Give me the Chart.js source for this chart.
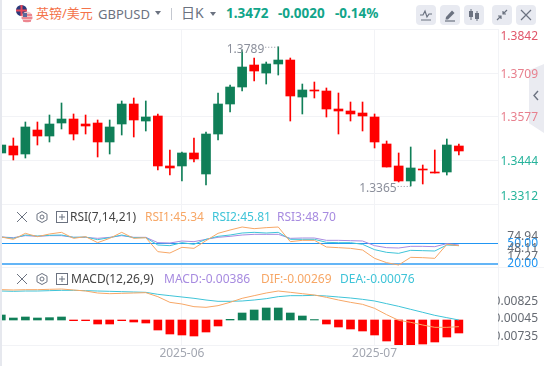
<!DOCTYPE html>
<html lang="zh">
<head>
<meta charset="utf-8">
<title>GBPUSD</title>
<script src="https://cdn.jsdelivr.net/npm/chart.js@4/dist/chart.umd.min.js"></script>
<style>
  html, body { margin: 0; padding: 0; background: #fff; }
  body { width: 544px; height: 366px; position: relative; overflow: hidden; font-family: "Noto Sans", "Noto Sans CJK SC", sans-serif; }
  .abs { position: absolute; white-space: nowrap; line-height: 16px; }
  canvas { position: absolute; left: 0; }
  .btn { position: absolute; top: 5px; width: 20px; height: 20px; background: #e8eaf1; border-radius: 4px; }
  .btn svg, .tool svg { display: block; }
  .tool { position: absolute; width: 12px; height: 12px; }
  .line { position: absolute; background: #f2f3f6; }
</style>
</head>
<body>
<div class="line" style="left:0;top:0;width:2px;height:366px;background:#e6e8ee"></div>
<div class="line" style="left:2px;top:267px;width:542px;height:1px"></div>
<div style="position:absolute;left:529px;top:64px;width:15px;height:69px;background:#eaebf1;clip-path:polygon(0 9%,100% 0,100% 100%,0 86%)"></div>
<svg style="position:absolute;left:532px;top:90px" width="8" height="11"><path d="M6 1 L2 5.5 L6 10" fill="none" stroke="#6b7280" stroke-width="1.4"/></svg>

<svg style="position:absolute;left:15px;top:4px" width="19" height="19">
  <circle cx="6.5" cy="6.5" r="5.5" fill="#2b3a7a"/>
  <path d="M1 6.5 H12 M6.5 1 V12" stroke="#e8485a" stroke-width="2"/>
  <circle cx="12" cy="13" r="5.5" fill="#f3c6c6"/>
  <path d="M7 11 H17 M6.6 14 H17.4 M8 17 H16" stroke="#e8485a" stroke-width="1.2"/>
  <rect x="8" y="9" width="4" height="4" fill="#5a6a9a"/>
</svg>
<div class="abs" style="left:36px;top:5px;font-size:13px;color:#f4734a">英镑/美元</div>
<div class="abs" style="left:98px;top:6px;font-size:13px;color:#6b7280">GBPUSD</div>
<svg style="position:absolute;left:155px;top:11px" width="6" height="4"><path d="M0 0 H6 L3 4 Z" fill="#6b7280"/></svg>
<div class="line" style="left:171px;top:8px;width:1px;height:12px;background:#c4c8d0"></div>
<div class="abs" style="left:181px;top:5px;font-size:14px;color:#6b7280">日K</div>
<svg style="position:absolute;left:210px;top:12px" width="6" height="4"><path d="M0 0 H6 L3 4 Z" fill="#6b7280"/></svg>
<div class="abs" style="left:226px;top:5px;font-size:13.5px;font-weight:700;color:#12a58a">1.3472</div>
<div class="abs" style="left:278px;top:5px;font-size:13.5px;font-weight:700;color:#12a58a">-0.0020</div>
<div class="abs" style="left:335px;top:5px;font-size:13.5px;font-weight:700;color:#12a58a">-0.14%</div>

<div class="btn" style="left:416px"><svg width="20" height="20"><path d="M4 10 H7 L9 6 L11 12 L13 9 H16 M5 15 H15" fill="none" stroke="#6b7280" stroke-width="1.2"/></svg></div>
<div class="btn" style="left:440px"><svg width="20" height="20"><path d="M6 12 L12 5.5 L14.5 8 L8 14.5 L5.5 14.5 Z" fill="#6b7280"/><path d="M5 16 H15" stroke="#6b7280" stroke-width="1.2"/></svg></div>
<div class="btn" style="left:464px"><svg width="20" height="20"><path d="M7 4 V15 M13 6 V16" stroke="#6b7280"/><rect x="5" y="6" width="4" height="6" fill="#6b7280"/><rect x="11" y="8" width="4" height="6" fill="#6b7280"/></svg></div>
<div class="btn" style="left:492px"><svg width="20" height="20"><path d="M15 5 L11 9 M11 6 V9 H14 M5 15 L9 11 M6 11 H9 V14" fill="none" stroke="#6b7280" stroke-width="1.2"/></svg></div>
<div class="btn" style="left:516px"><svg width="20" height="20"><path d="M5 5 L15 15 M15 5 L5 15" stroke="#6b7280" stroke-width="1.2"/></svg></div>

<canvas id="priceChart" width="538" height="178" style="top:28px;width:538px;height:178px"></canvas>
<canvas id="rsiChart" width="538" height="61" style="top:206px;width:538px;height:61px"></canvas>
<canvas id="macdChart" width="538" height="98" style="top:268px;width:538px;height:98px"></canvas>

<div class="tool" style="left:16px;top:211px"><svg width="12" height="12"><path d="M1 1 L11 11 M11 1 L1 11" stroke="#6b7280"/></svg></div>
<div class="tool" style="left:36px;top:211px"><svg width="12" height="12"><path d="M6 .5 L11 3.2 V8.8 L6 11.5 L1 8.8 V3.2 Z" fill="none" stroke="#6b7280"/><circle cx="6" cy="6" r="2" fill="none" stroke="#6b7280"/></svg></div>
<div class="tool" style="left:56px;top:211px"><svg width="12" height="12"><rect x=".5" y=".5" width="11" height="11" fill="none" stroke="#6b7280"/><path d="M6 3 V9 M3 6 H9" stroke="#6b7280"/></svg></div>
<div class="abs" style="left:70px;top:209px;font-size:12px;color:#444">RSI(7,14,21)</div>
<div class="abs" style="left:145px;top:209px;font-size:12px;color:#f7a766">RSI1:45.34</div>
<div class="abs" style="left:212px;top:209px;font-size:12px;color:#3fc4d8">RSI2:45.81</div>
<div class="abs" style="left:277px;top:209px;font-size:12px;color:#a78be0">RSI3:48.70</div>

<div class="tool" style="left:16px;top:273px"><svg width="12" height="12"><path d="M1 1 L11 11 M11 1 L1 11" stroke="#6b7280"/></svg></div>
<div class="tool" style="left:36px;top:273px"><svg width="12" height="12"><path d="M6 .5 L11 3.2 V8.8 L6 11.5 L1 8.8 V3.2 Z" fill="none" stroke="#6b7280"/><circle cx="6" cy="6" r="2" fill="none" stroke="#6b7280"/></svg></div>
<div class="tool" style="left:56px;top:273px"><svg width="12" height="12"><rect x=".5" y=".5" width="11" height="11" fill="none" stroke="#6b7280"/><path d="M6 3 V9 M3 6 H9" stroke="#6b7280"/></svg></div>
<div class="abs" style="left:71px;top:271px;font-size:12px;color:#444">MACD(12,26,9)</div>
<div class="abs" style="left:164px;top:271px;font-size:12px;color:#a78be0">MACD:-0.00386</div>
<div class="abs" style="left:261px;top:271px;font-size:12px;color:#f7a766">DIF:-0.00269</div>
<div class="abs" style="left:340px;top:271px;font-size:12px;color:#3fc4d8">DEA:-0.00076</div>

<script>
// values, one entry per daily candle
const opens = [1.34654, 1.34867, 1.34623, 1.35354, 1.35171, 1.35567, 1.35689, 1.35537, 1.35567, 1.34989,
  1.35537, 1.36146, 1.35628, 1.35781, 1.34258, 1.34258, 1.34654, 1.34014, 1.35232, 1.36146,
  1.36664, 1.37334, 1.3709, 1.37365, 1.37486, 1.36359, 1.36573, 1.36542, 1.35994, 1.35933,
  1.35872, 1.3575, 1.34928, 1.34258, 1.33801, 1.34166, 1.34075, 1.34075, 1.34867];
const closes = [1.34897, 1.34593, 1.35446, 1.35171, 1.35537, 1.35689, 1.35232, 1.35476, 1.34989, 1.35446,
  1.36146, 1.35659, 1.3575, 1.34258, 1.34197, 1.34654, 1.34471, 1.35232, 1.36146, 1.36664,
  1.37273, 1.37151, 1.37365, 1.37486, 1.3639, 1.36573, 1.36542, 1.35994, 1.35933, 1.35842,
  1.35781, 1.34989, 1.34227, 1.33801, 1.34197, 1.34136, 1.34044, 1.34897, 1.34715];
const highs = [1.34897, 1.35111, 1.35598, 1.35598, 1.35811, 1.36177, 1.35842, 1.35811, 1.35659, 1.35659,
  1.36238, 1.36329, 1.36238, 1.35842, 1.34745, 1.34684, 1.35111, 1.35293, 1.36481, 1.36725,
  1.37791, 1.37547, 1.37425, 1.3789, 1.37547, 1.36755, 1.36816, 1.36634, 1.36481, 1.36207,
  1.36207, 1.35842, 1.35019, 1.34654, 1.34836, 1.34288, 1.34745, 1.3508, 1.34928];
const lows = [1.34654, 1.3444, 1.34501, 1.34897, 1.34989, 1.35385, 1.3505, 1.35232, 1.34532, 1.34623,
  1.35202, 1.35141, 1.35324, 1.34136, 1.33983, 1.33801, 1.34379, 1.33679, 1.3505, 1.35902,
  1.36542, 1.36847, 1.36755, 1.37029, 1.35628, 1.35842, 1.36329, 1.3575, 1.35232, 1.35628,
  1.35324, 1.34806, 1.34227, 1.3377, 1.3365, 1.33709, 1.34044, 1.33983, 1.34593];

const rsi1 = [59.75, 56.25, 65.25, 60.25, 64.25, 66.75, 57.75, 60.25, 51.25, 57.75,
  66.75, 57.75, 58.75, 37.75, 35.75, 44.25, 42.75, 54.25, 65.25, 70.25,
  74.75, 72.25, 73.75, 74.75, 52.75, 54.75, 54.75, 44.75, 43.75, 42.75,
  40.25, 27.75, 21.25, 17.75, 29.25, 28.75, 27.75, 48.75, 46.75];
const rsi2 = [59.75, 57.75, 62.75, 61.25, 62.25, 62.75, 59.25, 59.75, 55.75, 58.75,
  62.75, 58.75, 58.75, 47.75, 46.75, 51.25, 48.75, 56.25, 60.75, 62.75,
  65.75, 66.75, 65.75, 66.75, 56.25, 56.25, 56.25, 51.75, 51.25, 51.25,
  48.75, 40.75, 36.75, 35.25, 39.75, 39.25, 38.75, 47.75, 46.75];
const rsi3 = [59.75, 58.75, 61.75, 60.75, 61.75, 61.75, 59.25, 59.25, 57.75, 59.25,
  61.75, 59.25, 59.25, 51.25, 50.75, 53.75, 52.75, 56.25, 59.25, 60.75,
  62.75, 63.75, 63.75, 63.75, 57.75, 58.25, 58.25, 54.75, 54.75, 54.25,
  53.75, 46.75, 43.75, 43.25, 45.75, 45.75, 45.25, 49.75, 47.75];

const macdHist = [0.00223, 0.00089, 0.00134, 0.00089, 0.00104, 0.00134, -0.0003, -0.0003, -0.00178, -0.00178,
  -0.0003, -0.00089, -0.00134, -0.00446, -0.00624, -0.00668, -0.00713, -0.00535, -0.00267, 0.0003,
  0.00312, 0.00446, 0.00535, 0.00535, 0.00312, 0.00178, 0.0002, -0.00178, -0.00312, -0.00401,
  -0.0049, -0.00668, -0.00936, -0.01114, -0.01114, -0.0107, -0.0098, -0.00758, -0.00579];
const dif = [0.01352, 0.01337, 0.01352, 0.01352, 0.01367, 0.01381, 0.01337, 0.01292, 0.01203, 0.01173,
  0.01188, 0.01203, 0.01218, 0.0104, 0.00787, 0.00713, 0.00594, 0.00565, 0.00639, 0.00787,
  0.00966, 0.01084, 0.01203, 0.01292, 0.01233, 0.01173, 0.01114, 0.0101, 0.00891, 0.00787,
  0.00698, 0.0052, 0.00238, -0.00015, -0.00104, -0.00223, -0.00327, -0.00327, -0.00297];
const dea = [0.01292, 0.01278, 0.01292, 0.01292, 0.01307, 0.01322, 0.01322, 0.01307, 0.01292, 0.01278,
  0.01263, 0.01248, 0.01233, 0.01144, 0.01084, 0.01025, 0.00966, 0.00891, 0.00832, 0.00832,
  0.00847, 0.00891, 0.0095, 0.0104, 0.01084, 0.01084, 0.01099, 0.0107, 0.01025, 0.0098,
  0.00921, 0.00847, 0.00728, 0.00609, 0.00475, 0.00342, 0.00208, 0.00104, 0];

const priceTicks = [1.3842, 1.3709, 1.3577, 1.3444, 1.3307];
const priceTickLabels = ['1.3842', '1.3709', '1.3577', '1.3444', '1.3312'];
const priceTickColors = ['#e0566a', '#e8808e', '#e8808e', '#26b39b', '#26b39b'];
const rsiTicks = [59.75, 50, 41.75, 29.75, 20];
const rsiTickLabels = ['74.94', '50.00', '48.11', '17.27', '20.00'];
const macdTicks = [0.00825, 0.00045, -0.00735];
const macdTickLabels = ['0.00825', '0.00045', '-0.00735'];
const monthTicks = [15, 31];
const monthLabels = ['2025-06', '2025-07'];
const highIndex = 23;
const lowIndex = 34;

const GREEN = '#107f58';
const RED = '#ff0000';
const GRID = '#f2f3f6';
const ORANGE = '#f7a766';
const CYAN = '#3fc4d8';
const PURPLE = '#a78be0';
const FONT = { family: '"Noto Sans", sans-serif', size: 12 };

const candleColors = opens.map((o, i) => closes[i] >= o ? GREEN : RED);
const histColors = macdHist.map(v => v >= 0 ? GREEN : RED);

function xAxis(showLabels) {
    return {
        type: 'linear',
        offset: false,
        min: 0.058,
        max: 41.25,
        afterBuildTicks: scale => { scale.ticks = monthTicks.map(v => ({ value: v })); },
        afterFit: scale => {
            scale.height = showLabels ? 21 : 0;
            scale.paddingLeft = 0;
            scale.paddingRight = 0;
        },
        border: { display: showLabels, color: GRID },
        grid: { color: GRID, drawTicks: false, offset: false },
        ticks: {
            display: showLabels,
            autoSkip: false,
            maxRotation: 0,
            padding: 1,
            color: '#a3a7b1',
            font: FONT,
            callback: value => monthLabels[monthTicks.indexOf(value)]
        }
    };
}

// y axes keep the same width so the three panels line up
function fixedWidth(scale) {
    scale.width = 40;
    scale.paddingTop = 0;
    scale.paddingBottom = 0;
}

function series(values) {
    return values.map((v, i) => ({ x: i, y: v }));
}

function lineSet(values, color) {
    return { type: 'line', data: series(values), borderColor: color, borderWidth: 1, pointRadius: 0, tension: 0 };
}

const baseOptions = {
    responsive: false,
    animation: false,
    events: [],
    layout: { padding: { left: 2, right: 0, top: 0, bottom: 0 } },
    plugins: { legend: { display: false }, tooltip: { enabled: false } }
};

// price labels sit next to their grid line but stay inside the panel,
// and the high and low of the view get a dotted note
const priceNotes = {
    id: 'priceNotes',
    afterDraw(chart) {
        const { ctx, chartArea } = chart;
        const yScale = chart.scales.y;
        const xScale = chart.scales.x;
        ctx.save();
        ctx.font = '12px "Noto Sans", sans-serif';
        ctx.textBaseline = 'middle';
        ctx.textAlign = 'right';
        priceTicks.forEach((v, i) => {
            const y = Math.min(Math.max(yScale.getPixelForValue(v) + 1.5, chartArea.top + 8), chartArea.bottom - 9);
            ctx.fillStyle = priceTickColors[i];
            ctx.fillText(priceTickLabels[i], 538, y);
        });
        ctx.fillStyle = '#8b8f9b';
        ctx.strokeStyle = '#8b8f9b';
        ctx.setLineDash([1, 2]);
        [highIndex, lowIndex].forEach((idx, n) => {
            const price = n === 0 ? highs[idx] : lows[idx];
            const x = xScale.getPixelForValue(idx);
            const y = yScale.getPixelForValue(price);
            ctx.fillText(price.toFixed(4), x - 14, y + 2.5);
            ctx.beginPath();
            ctx.moveTo(x - 13, y + 0.5);
            ctx.lineTo(x, y + 0.5);
            ctx.stroke();
        });
        ctx.restore();
    }
};

new Chart(document.getElementById('priceChart'), {
    type: 'bar',
    data: {
        datasets: [
            { data: highs.map((h, i) => ({ x: i, y: [lows[i], h] })), backgroundColor: candleColors, barThickness: 1, grouped: false },
            { data: opens.map((o, i) => ({ x: i, y: [Math.min(o, closes[i]), Math.max(o, closes[i])] })), backgroundColor: candleColors, barThickness: 9, grouped: false }
        ]
    },
    options: {
        ...baseOptions,
        layout: { padding: { left: 2, right: 0, top: 1, bottom: 0 } },
        scales: {
            x: xAxis(false),
            y: {
                position: 'right',
                min: 1.33039,
                max: 1.38431,
                afterBuildTicks: scale => { scale.ticks = priceTicks.map(v => ({ value: v })); },
                afterFit: fixedWidth,
                border: { color: GRID },
                grid: { color: GRID, drawTicks: false },
                ticks: { display: false }
            }
        }
    },
    plugins: [priceNotes]
});

new Chart(document.getElementById('rsiChart'), {
    type: 'line',
    data: {
        datasets: [lineSet(rsi1, ORANGE), lineSet(rsi2, CYAN), lineSet(rsi3, PURPLE)]
    },
    options: {
        ...baseOptions,
        scales: {
            x: xAxis(false),
            y: {
                position: 'right',
                min: 14.75,
                max: 106.25,
                afterBuildTicks: scale => { scale.ticks = rsiTicks.map(v => ({ value: v })); },
                afterFit: fixedWidth,
                border: { color: GRID },
                grid: {
                    drawTicks: false,
                    color: ctx => ctx.tick.value === 50 ? '#2196f3' : ctx.tick.value === 20 ? '#64b5f6' : 'transparent',
                    lineWidth: ctx => ctx.tick.value === 20 ? 2 : 1
                },
                ticks: {
                    autoSkip: false,
                    crossAlign: 'far',
                    font: FONT,
                    color: ctx => (ctx.tick.value === 50 || ctx.tick.value === 20) ? '#2196f3' : '#666b73',
                    callback: value => rsiTickLabels[rsiTicks.indexOf(value)]
                }
            }
        }
    }
});

new Chart(document.getElementById('macdChart'), {
    type: 'bar',
    data: {
        datasets: [
            lineSet(dif, ORANGE),
            lineSet(dea, CYAN),
            { data: series(macdHist), backgroundColor: histColors, barThickness: 8 }
        ]
    },
    options: {
        ...baseOptions,
        scales: {
            x: xAxis(true),
            y: {
                position: 'right',
                min: -0.01114,
                max: 0.02317,
                afterBuildTicks: scale => { scale.ticks = macdTicks.map(v => ({ value: v })); },
                afterFit: fixedWidth,
                border: { color: GRID },
                grid: { color: 'transparent', drawTicks: false },
                ticks: {
                    autoSkip: false,
                    crossAlign: 'far',
                    font: FONT,
                    color: '#666b73',
                    callback: value => macdTickLabels[macdTicks.indexOf(value)]
                }
            }
        }
    }
});
</script>
</body>
</html>
